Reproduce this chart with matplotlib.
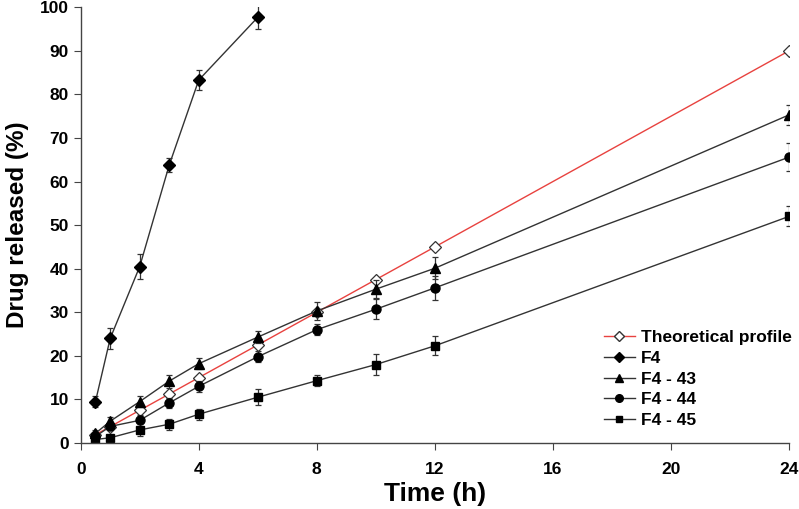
import matplotlib
matplotlib.use("Agg")
import matplotlib.pyplot as plt
from matplotlib.lines import Line2D

plt.rcParams['font.family'] = ['Liberation Sans', 'DejaVu Sans']
plt.rcParams['font.weight'] = 'bold'

# data
time_h = [0.5, 1, 2, 3, 4, 6, 8, 10, 12, 24]
theoretical = [1.9, 3.75, 7.5, 11.25, 15, 22.5, 30, 37.5, 45, 90]

f4_time = [0.5, 1, 2, 3, 4, 6]
f4 = [9.5, 24.0, 40.5, 63.8, 83.3, 97.7]
f4_err = [1.3, 2.5, 2.8, 1.5, 2.3, 2.8]

f4_43 = [2.2, 5.0, 9.5, 14.2, 18.2, 24.3, 30.3, 35.3, 40.1, 75.3]
f4_43_err = [0.8, 1.0, 1.2, 1.5, 1.3, 1.3, 2.0, 2.0, 2.5, 2.3]

f4_44 = [1.5, 3.8, 5.2, 9.2, 13.0, 19.8, 26.0, 30.7, 35.6, 65.6]
f4_44_err = [0.6, 0.8, 1.2, 1.2, 1.3, 1.3, 1.3, 2.3, 2.7, 3.2]

f4_45 = [0.8, 1.2, 3.0, 4.3, 6.6, 10.5, 14.3, 18.0, 22.3, 52.0]
f4_45_err = [0.5, 0.5, 1.5, 1.3, 1.3, 1.8, 1.3, 2.5, 2.2, 2.3]

fig = plt.figure(figsize=(7.99, 5.09), dpi=100)
ax = fig.add_axes([0.101, 0.1297, 0.8865, 0.856])

line_col = '#333333'
red = '#e8423f'
err_kw = dict(ecolor='#333333', elinewidth=0.9, capsize=2.5, capthick=0.9)

ax.plot(time_h, theoretical, color=red, lw=1.0, marker='D', ms=6,
        mfc='white', mec='#333333', mew=0.9, zorder=1.5)
ax.errorbar(f4_time, f4, yerr=f4_err, color=line_col, lw=1.0, marker='D', ms=6,
            mfc='black', mec='black', **err_kw)
ax.errorbar(time_h, f4_43, yerr=f4_43_err, color=line_col, lw=1.0, marker='^', ms=7,
            mfc='black', mec='black', **err_kw)
ax.errorbar(time_h, f4_44, yerr=f4_44_err, color=line_col, lw=1.0, marker='o', ms=6.5,
            mfc='black', mec='black', **err_kw)
ax.errorbar(time_h, f4_45, yerr=f4_45_err, color=line_col, lw=1.0, marker='s', ms=6,
            mfc='black', mec='black', **err_kw)

ax.set_xlim(0, 24)
ax.set_ylim(0, 100)
ax.set_xticks(range(0, 25, 4))
ax.set_yticks(range(0, 101, 10))
for s in ['top', 'right']:
    ax.spines[s].set_visible(False)
for s in ['left', 'bottom']:
    ax.spines[s].set_color('#444444')
    ax.spines[s].set_linewidth(1.0)
ax.tick_params(axis='both', labelsize=12.5, direction='out', length=5, color='#444444')
ax.tick_params(axis='x', pad=9)
for lab in ax.get_xticklabels() + ax.get_yticklabels():
    lab.set_fontweight('bold')

ax.set_xlabel('Time (h)', fontsize=19, fontweight='bold', labelpad=3)
ax.set_ylabel('Drug released (%)', fontsize=17.5, fontweight='bold', labelpad=8)

# legend handles: plain line + marker, no error bars
labels = ['Theoretical profile', 'F4', 'F4 - 43', 'F4 - 44', 'F4 - 45']
handles = [
    Line2D([], [], color=red, lw=1.0, marker='D', ms=5, mfc='white', mec='#333333'),
    Line2D([], [], color=line_col, lw=1.0, marker='D', ms=5, mfc='black', mec='black'),
    Line2D([], [], color=line_col, lw=1.0, marker='^', ms=6, mfc='black', mec='black'),
    Line2D([], [], color=line_col, lw=1.0, marker='o', ms=5.5, mfc='black', mec='black'),
    Line2D([], [], color=line_col, lw=1.0, marker='s', ms=5, mfc='black', mec='black'),
]
fig.legend(handles, labels, loc='lower right',
           bbox_to_anchor=(792 / 799, 1 - 428 / 509),
           frameon=False, handlelength=1.8, handletextpad=0.35,
           labelspacing=0.32, borderpad=0, borderaxespad=0,
           prop={'weight': 'bold', 'size': 12.5})

fig.savefig('out.png', dpi=100)
